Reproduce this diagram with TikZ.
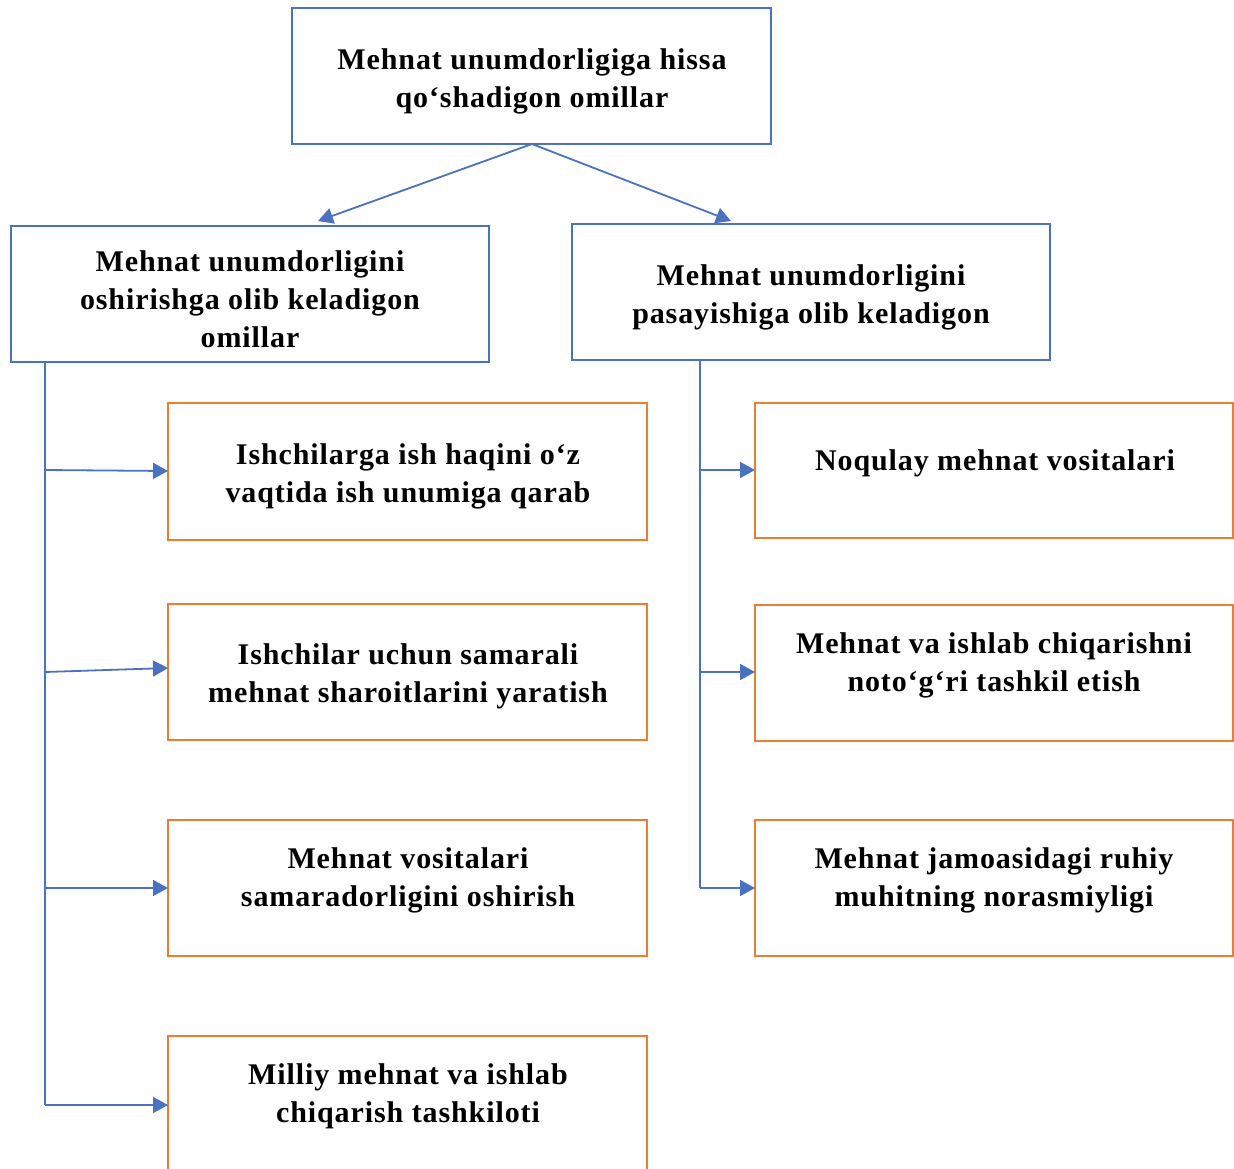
\documentclass[tikz,border=0pt]{standalone}
\usepackage{fontspec}
\setmainfont{Liberation Serif}[LetterSpace=3]
\usetikzlibrary{arrows.meta}
\definecolor{bblue}{HTML}{4A72C0}
\definecolor{borange}{HTML}{ED7D31}
\begin{document}
\begin{tikzpicture}[x=1pt,y=-1pt,
  bbox/.style={draw=bblue,line width=2.2pt,fill=white},
  obox/.style={draw=borange,line width=2.2pt,fill=white},
  txt/.style={align=center,font=\fontsize{30}{38}\selectfont\bfseries,inner sep=0pt},
  conn/.style={draw=bblue,line width=1.8pt},
  arr/.style={conn,-{Triangle[length=15pt,width=16pt]}}]
\useasboundingbox (0,0) rectangle (1234,1168);
% boxes
\draw[bbox] (292,8) rectangle (771,144);
\draw[bbox] (11,226) rectangle (489,362);
\draw[bbox] (572,224) rectangle (1050,360);
\draw[obox] (168,403) rectangle (647,540);
\draw[obox] (168,604) rectangle (647,740);
\draw[obox] (168,820) rectangle (647,956);
\draw[obox] (168,1036) rectangle (647,1170);
\draw[obox] (755,403) rectangle (1233,538);
\draw[obox] (755,605) rectangle (1233,741);
\draw[obox] (755,820) rectangle (1233,956);
% texts
\node[txt] (top) at (532,81) {Mehnat unumdorligiga hissa\\qo‘shadigon omillar};
\node[txt] (left) at (250,299) {Mehnat unumdorligini\\oshirishga olib keladigon\\omillar};
\node[txt] (right) at (811,297) {Mehnat unumdorligini\\pasayishiga olib keladigon};
\node[txt] (l1) at (408,476) {Ishchilarga ish haqini o‘z\\vaqtida ish unumiga qarab};
\node[txt] (l2) at (408,676) {Ishchilar uchun samarali\\mehnat sharoitlarini yaratish};
\node[txt] (l3) at (408,880) {Mehnat vositalari\\samaradorligini oshirish};
\node[txt] (l4) at (408,1096) {Milliy mehnat va ishlab\\chiqarish tashkiloti};
\node[txt] (r1) at (995,463) {Noqulay mehnat vositalari};
\node[txt] (r2) at (994,665) {Mehnat va ishlab chiqarishni\\noto‘g‘ri tashkil etish};
\node[txt] (r3) at (994,880) {Mehnat jamoasidagi ruhiy\\muhitning norasmiyligi};
% connectors
\coordinate (tb) at (532,144);
\coordinate (la) at (318,221);
\coordinate (ra) at (731,221);
\draw[arr] (tb) -- (la);
\draw[arr] (tb) -- (ra);
\coordinate (lv0) at (45,362);
\coordinate (lv4) at (45,1105);
\draw[conn] (lv0) -- (lv4);
\coordinate (lh1) at (45,470);
\coordinate (lh2) at (45,672);
\coordinate (lh3) at (45,888);
\coordinate (le1) at (168,471);
\coordinate (le2) at (168,668);
\coordinate (le3) at (168,888);
\coordinate (le4) at (168,1105);
\draw[arr] (lh1) -- (le1);
\draw[arr] (lh2) -- (le2);
\draw[arr] (lh3) -- (le3);
\draw[arr] (lv4) -- (le4);
\coordinate (rv0) at (700,360);
\coordinate (rv3) at (700,888);
\draw[conn] (rv0) -- (rv3);
\coordinate (rh1) at (700,470);
\coordinate (rh2) at (700,672);
\coordinate (re1) at (755,470);
\coordinate (re2) at (755,672);
\coordinate (re3) at (755,888);
\draw[arr] (rh1) -- (re1);
\draw[arr] (rh2) -- (re2);
\draw[arr] (rv3) -- (re3);
\end{tikzpicture}
\end{document}
